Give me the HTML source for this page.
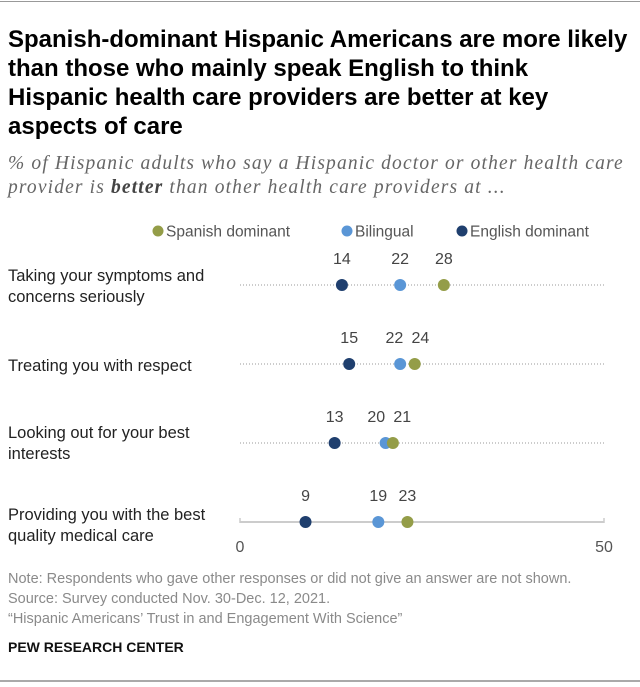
<!DOCTYPE html>
<html><head><meta charset="utf-8"><style>
body{margin:0;width:640px;height:687px;background:#fff;position:relative;overflow:hidden;font-family:"Liberation Sans",sans-serif}
.a{position:absolute}
#title{left:8px;top:25px;width:640px;font-size:24px;font-weight:bold;line-height:29px;color:#000;white-space:nowrap}
#sub{left:8px;top:152px;font-size:19.5px;letter-spacing:1.15px;font-style:italic;line-height:24px;color:#666;font-family:"Liberation Serif",serif;white-space:nowrap}
.lab{left:8px;font-size:16.5px;line-height:21px;color:#222}
.note{left:8px;font-size:14.5px;color:#8a8a8a;line-height:20px;white-space:nowrap}
</style></head><body>
<div class="a" style="left:0;top:1px;width:640px;height:1px;background:#999"></div>
<div id="title" class="a">Spanish-dominant Hispanic Americans are more likely<br>than those who mainly speak English to think<br>Hispanic health care providers are better at key<br>aspects of care</div>
<div id="sub" class="a">% of Hispanic adults who say a Hispanic doctor or other health care<br>provider is <b style="color:#444">better</b> than other health care providers at ...</div>
<div class="a lab" style="top:266px">Taking your symptoms and<br>concerns seriously</div>
<div class="a lab" style="top:356px">Treating you with respect</div>
<div class="a lab" style="top:423px">Looking out for your best<br>interests</div>
<div class="a lab" style="top:505px">Providing you with the best<br>quality medical care</div>
<svg class="a" style="left:0;top:0" width="640" height="687" id="chart"></svg>
<div class="a note" style="top:569px">Note: Respondents who gave other responses or did not give an answer are not shown.</div>
<div class="a note" style="top:589px">Source: Survey conducted Nov. 30-Dec. 12, 2021.</div>
<div class="a note" style="top:609px">“Hispanic Americans’ Trust in and Engagement With Science”</div>
<div class="a" style="left:8px;top:639px;font-size:14px;font-weight:bold;color:#111">PEW RESEARCH CENTER</div>
<div class="a" style="left:0;top:680px;width:640px;height:2px;background:#aaa"></div>
<script>
const categories=["Taking your symptoms and concerns seriously","Treating you with respect","Looking out for your best interests","Providing you with the best quality medical care"];
const seriesNames=["Spanish dominant","Bilingual","English dominant"];
const spanish=[28,24,21,23];
const bilingual=[22,22,20,19];
const english=[14,15,13,9];
const ticks=[0,50];
const colors=["#949d48","#5a96d6","#1f3f6e"];
const svg=document.getElementById('chart');
const NS="http://www.w3.org/2000/svg";
const x0=240,x1=604,xs=v=>x0+(v-0)/(50-0)*(x1-x0);
const yRow=i=>285+i*79;
function mk(t,a){const e=document.createElementNS(NS,t);for(const k in a)e.setAttribute(k,a[k]);svg.appendChild(e);return e;}
const legX=[158,347,462];
seriesNames.forEach((n,i)=>{
 const c=mk('circle',{cx:legX[i],cy:231,r:5.5,fill:colors[i]});
 
 
 const t=mk('text',{x:legX[i]+8,y:236.5,'font-size':15.5,fill:'#555'});
 t.textContent=n;
 
 
});
const keys=['spanish','bilingual','english'];
categories.forEach((c,i)=>{
 const y=yRow(i);const last=i===categories.length-1;
 const l=mk('line',{x1:x0,x2:x1,y1:y,y2:y,stroke:last?'#ccc':'#999','stroke-width':last?2:1,'stroke-dasharray':last?'none':'1 2'});
 
 
 const pts=[spanish[i],bilingual[i],english[i]].map((v,si)=>({si,v,x:xs(v)})).sort((a,b)=>a.x-b.x);
 pts.forEach(p=>p.lx=p.x);
 for(let it=0;it<20;it++){for(let k=0;k<pts.length-1;k++){const a=pts[k],b=pts[k+1];const gap=b.lx-a.lx;if(gap<26){const m=(a.lx+b.lx)/2;a.lx=m-13;b.lx=m+13;}}}
 pts.forEach(p=>{
  const d=mk('circle',{cx:p.x,cy:y,r:6,fill:colors[p.si]});
  
  
 });
 pts.forEach(p=>{
  const t=mk('text',{x:p.lx,y:y-21,'font-size':16,fill:'#444','text-anchor':'middle'});
  t.textContent=p.v;
  
  
 });
});
const ya=yRow(3);
ticks.forEach(v=>{
 const tk=mk('line',{x1:xs(v),x2:xs(v),y1:ya-4,y2:ya+1,stroke:'#ccc','stroke-width':1.5});
 
 
 const t=mk('text',{x:xs(v),y:ya+30,'font-size':16,fill:'#555','text-anchor':'middle'});
 t.textContent=v;
 
 
});
</script>
</body></html>
